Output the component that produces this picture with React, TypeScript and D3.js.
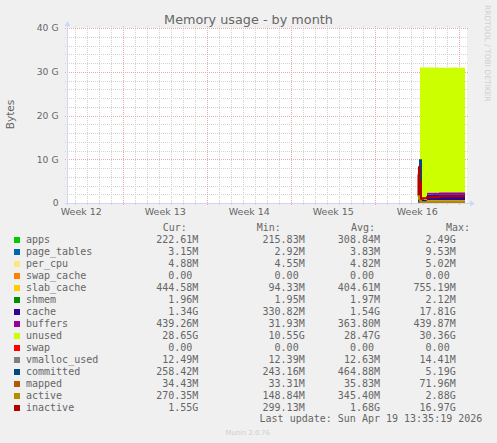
import React from "react";
import * as d3 from "d3";

// ---- data (GB) ----
const TIMES = [29.25, 29.29, 29.33, 29.375, 29.42, 29.5, 29.67, 30.0, 30.5, 31.0, 31.5, 32.0, 32.5, 33.0, 33.17];
const APPS = [0.45, 0.45, 0.4, 0.4, 0.3, 0.22, 0.22, 0.22, 0.22, 0.22, 0.22, 0.22, 0.22, 0.22, 0.22];
const PAGE_TABLES = [0.009, 0.009, 0.008, 0.008, 0.005, 0.003, 0.003, 0.003, 0.003, 0.003, 0.003, 0.003, 0.003, 0.003, 0.003];
const PER_CPU = [0.005, 0.005, 0.005, 0.005, 0.005, 0.005, 0.005, 0.005, 0.005, 0.005, 0.005, 0.005, 0.005, 0.005, 0.005];
const SWAP_CACHE = [0, 0, 0, 0, 0, 0, 0, 0, 0, 0, 0, 0, 0, 0, 0];
const SLAB_CACHE = [0.7, 0.7, 0.6, 0.6, 0.3, 0.1, 0.12, 0.44, 0.44, 0.44, 0.44, 0.44, 0.44, 0.44, 0.44];
const SHMEM = [0.002, 0.002, 0.002, 0.002, 0.002, 0.002, 0.002, 0.002, 0.002, 0.002, 0.002, 0.002, 0.002, 0.002, 0.002];
const CACHE = [1.2, 1.2, 1.0, 1.0, 0.5, 0.33, 0.4, 1.3, 1.32, 1.33, 1.33, 1.34, 1.34, 1.34, 1.34];
const BUFFERS = [0.05, 0.05, 0.04, 0.04, 0.03, 0.032, 0.035, 0.43, 0.435, 0.437, 0.438, 0.439, 0.439, 0.439, 0.439];
const UNUSED = [0, 0, 0, 0, 29.9, 30.3, 30.2, 28.55, 28.52, 28.5, 28.5, 28.5, 28.48, 28.48, 28.48];
const SWAP = [0, 0, 0, 0, 0, 0, 0, 0, 0, 0, 0, 0, 0, 0, 0];
const VMALLOC_USED = [0.0125, 0.0125, 0.0125, 0.0125, 0.0125, 0.0125, 0.0125, 0.0125, 0.0125, 0.0125, 0.0125, 0.0125, 0.0125, 0.0125, 0.0125];
const COMMITTED = [0.5, 0.5, 0.6, 0.6, 9.8, 0.26, 0.26, 0.26, 0.258, 0.258, 0.258, 0.258, 0.258, 0.258, 0.258];
const MAPPED = [0.07, 0.07, 0.06, 0.06, 0.04, 0.034, 0.034, 0.034, 0.034, 0.034, 0.034, 0.034, 0.034, 0.034, 0.034];
const ACTIVE = [1.5, 1.8, 1.2, 1.4, 0.6, 0.2, 0.2, 0.27, 0.27, 0.27, 0.27, 0.27, 0.27, 0.27, 0.27];
const INACTIVE = [6.5, 2.0, 8.2, 2.2, 5.0, 1.0, 1.1, 1.3, 1.35, 1.55, 1.55, 1.55, 1.55, 1.55, 1.55];

const NAMES = ["apps", "page_tables", "per_cpu", "swap_cache", "slab_cache", "shmem", "cache", "buffers", "unused", "swap", "vmalloc_used", "committed", "mapped", "active", "inactive"];
const COLORS = ["#00CC00", "#0066B3", "#FFE680", "#FF8000", "#FFCC00", "#008F00", "#330099", "#990099", "#CCFF00", "#FF0000", "#808080", "#00487D", "#B35A00", "#B38F00", "#B30000"];
const CUR = ["222.61M", "3.15M", "4.88M", "0.00", "444.58M", "1.96M", "1.34G", "439.26M", "28.65G", "0.00", "12.49M", "258.42M", "34.43M", "270.35M", "1.55G"];
const MIN = ["215.83M", "2.92M", "4.55M", "0.00", "94.33M", "1.95M", "330.82M", "31.93M", "10.55G", "0.00", "12.39M", "243.16M", "33.31M", "148.84M", "299.13M"];
const AVG = ["308.84M", "3.83M", "4.82M", "0.00", "404.61M", "1.97M", "1.54G", "363.80M", "28.47G", "0.00", "12.63M", "464.88M", "35.83M", "345.40M", "1.68G"];
const MAX = ["2.49G", "9.53M", "5.02M", "0.00", "755.19M", "2.12M", "17.81G", "439.87M", "30.36G", "0.00", "14.41M", "5.19G", "71.96M", "2.88G", "16.97G"];

const WEEKS = ["Week 12", "Week 13", "Week 14", "Week 15", "Week 16"];
const Y_TICKS = [0, 10, 20, 30, 40];
const Y_LABELS = ["0", "10 G", "20 G", "30 G", "40 G"];
const FIRST_WEEK_START = 4.69; // days from left edge to first major line
const SPAN_DAYS = 400 / 12;

const AREA_SERIES = [APPS, PAGE_TABLES, PER_CPU, SWAP_CACHE, SLAB_CACHE, SHMEM, CACHE, BUFFERS, UNUSED, SWAP];
const LINE_SERIES = [VMALLOC_USED, COMMITTED, MAPPED, ACTIVE, INACTIVE];

const FONT = "'DejaVu Sans', sans-serif";
const MONO = "'DejaVu Sans Mono', monospace";
const FC = "#666666";

export default function App() {
  const W = 497, H = 443;
  const L = 67, R = 467, T = 28, B = 203;
  const x = d3.scaleLinear().domain([0, SPAN_DAYS]).range([L, R]);
  const y = d3.scaleLinear().domain([0, 40]).range([B, T]);

  const areaKeys = NAMES.slice(0, 10);
  const rows = TIMES.map((t, i) => {
    const r: any = { t };
    areaKeys.forEach((k, j) => (r[k] = AREA_SERIES[j][i]));
    return r;
  });
  const stacked = d3.stack().keys(areaKeys)(rows);
  const area = d3
    .area<any>()
    .curve(d3.curveStepAfter)
    .x((d) => x(d.data.t))
    .y0((d) => y(d[0]))
    .y1((d) => y(d[1]));
  const line = d3
    .line<number>()
    .curve(d3.curveStepAfter)
    .x((_, i) => x(TIMES[i]))
    .y((v) => y(v));

  // grid positions
  const dayLines: number[] = [];
  for (let d = FIRST_WEEK_START - 4; d <= SPAN_DAYS; d += 1) dayLines.push(d);
  const weekLines: number[] = [];
  for (let d = FIRST_WEEK_START; d <= SPAN_DAYS; d += 7) weekLines.push(d);
  const minorY: number[] = d3.range(0, 41, 2);

  const legendY0 = 243;
  const rowH = 12;

  return (
    <svg
      width={W}
      height={H}
      style={{ position: "absolute", left: 0, top: 0, display: "block" }}
    >
      <rect width={W} height={H} fill="#F0F0F0" />
      <rect x={L} y={T} width={R - L} height={B - T} fill="#FFFFFF" />

      {/* minor grid */}
      <g stroke="#d2d2d2" strokeWidth={1} strokeDasharray="1,1">
        {minorY.filter((v) => v % 10 !== 0).map((v) => (
          <line key={"hy" + v} x1={L - 2} x2={R + 2} y1={Math.round(y(v)) + 0.5} y2={Math.round(y(v)) + 0.5} />
        ))}
        {dayLines.filter((d) => !weekLines.some((w) => Math.abs(w - d) < 1e-6)).map((d) => (
          <line key={"vx" + d} x1={Math.round(x(d)) + 0.5} x2={Math.round(x(d)) + 0.5} y1={T - 2} y2={B + 2} />
        ))}
      </g>
      {/* major grid */}
      <g stroke="#e6aaaa" strokeWidth={1} strokeDasharray="1,1">
        {Y_TICKS.filter((v) => v !== 0).map((v) => (
          <line key={"my" + v} x1={L - 2} x2={R + 2} y1={Math.round(y(v)) + 0.5} y2={Math.round(y(v)) + 0.5} />
        ))}
        {weekLines.map((d) => (
          <line key={"mx" + d} x1={Math.round(x(d)) + 0.5} x2={Math.round(x(d)) + 0.5} y1={T - 2} y2={B + 2} />
        ))}
      </g>

      {/* stacked areas */}
      <g>
        {stacked.map((s, i) => (
          <path key={areaKeys[i]} d={area(s as any) || ""} fill={COLORS[i]} />
        ))}
      </g>
      {/* lines */}
      <g fill="none" strokeWidth={2}>
        {LINE_SERIES.map((vals, i) => (
          <path key={NAMES[10 + i]} d={line(vals) || ""} stroke={COLORS[10 + i]} />
        ))}
      </g>

      {/* axes */}
      <g stroke="#CFD6F8" strokeWidth={1}>
        <line x1={L + 0.5} x2={L + 0.5} y1={B + 2} y2={T - 4} />
        <line x1={L - 2} x2={R + 4} y1={B + 0.5} y2={B + 0.5} />
      </g>
      <path d={`M${L - 2.5},${T - 2} L${L + 0.5},${T - 7} L${L + 3.5},${T - 2} Z`} fill="#CFD6F8" />
      <path d={`M${R + 3},${B - 2.5} L${R + 8},${B + 0.5} L${R + 3},${B + 3.5} Z`} fill="#CFD6F8" />

      {/* y labels */}
      <g fontFamily={FONT} fontSize={9.2} fill={FC} textAnchor="end">
        {Y_TICKS.map((v, i) => (
          <text key={"yl" + v} x={L - 8.5} y={y(v) + 3.3}>
            {Y_LABELS[i]}
          </text>
        ))}
      </g>
      {/* week labels */}
      <g fontFamily={FONT} fontSize={9.5} fill={FC} textAnchor="middle">
        {WEEKS.map((w, i) => (
          <text key={w} x={x(FIRST_WEEK_START - 3.5 + 7 * i)} y={215}>
            {w}
          </text>
        ))}
      </g>

      {/* title */}
      <text x={248.5} y={24} fontFamily={FONT} fontSize={12.8} fill={FC} textAnchor="middle">
        Memory usage - by month
      </text>
      <text
        transform="translate(13.5,114.5) rotate(-90)"
        fontFamily={FONT}
        fontSize={10.5}
        fill={FC}
        textAnchor="middle"
      >
        Bytes
      </text>
      <text
        transform="translate(484.5,5) rotate(90)"
        fontFamily={FONT}
        fontSize={7.5}
        fill="#cfcfcf"
        textAnchor="start"
      >
        RRDTOOL / TOBI OETIKER
      </text>

      {/* legend */}
      <g fontFamily={MONO} fontSize={10} fill={FC}>
        <text x={162.7} y={legendY0 - rowH}>Cur:</text>
        <text x={256.7} y={legendY0 - rowH}>Min:</text>
        <text x={351} y={legendY0 - rowH}>Avg:</text>
        <text x={446} y={legendY0 - rowH}>Max:</text>
        {NAMES.map((n, i) => {
          const yy = legendY0 + i * rowH;
          const adj = (s: string) => (/[0-9]$/.test(s) ? 6.02 : 0);
          return (
            <g key={n}>
              <rect x={14} y={yy - 6} width={6} height={6} fill={COLORS[i]} />
              <text x={26} y={yy}>{n}</text>
              <text x={198.3 - adj(CUR[i])} y={yy} textAnchor="end">{CUR[i]}</text>
              <text x={304.7 - adj(MIN[i])} y={yy} textAnchor="end">{MIN[i]}</text>
              <text x={380 - adj(AVG[i])} y={yy} textAnchor="end">{AVG[i]}</text>
              <text x={455.7 - adj(MAX[i])} y={yy} textAnchor="end">{MAX[i]}</text>
            </g>
          );
        })}
        <text x={482.3} y={422} textAnchor="end">
          Last update: Sun Apr 19 13:35:19 2026
        </text>
      </g>
      <text x={247.8} y={434.5} fontFamily={FONT} fontSize={6.8} fill="#cfcfcf" textAnchor="middle">
        Munin 2.0.76
      </text>
    </svg>
  );
}
